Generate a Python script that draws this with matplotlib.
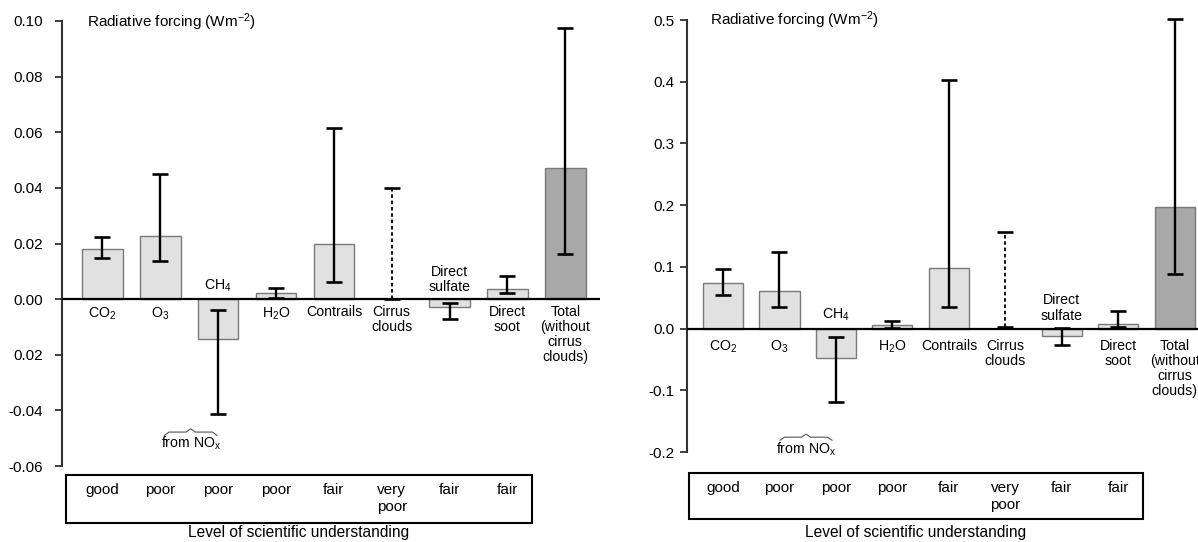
import matplotlib
matplotlib.use('Agg')
import matplotlib.pyplot as plt
import matplotlib.transforms as mtransforms
from matplotlib.patches import Rectangle

plt.rcParams['font.family'] = ['Liberation Sans', 'DejaVu Sans']
plt.rcParams['mathtext.fontset'] = 'custom'
plt.rcParams['mathtext.rm'] = 'Liberation Sans'
plt.rcParams['mathtext.it'] = 'Liberation Sans:italic'
plt.rcParams['mathtext.bf'] = 'Liberation Sans:bold'

# categories (shared by both panels)
labels = ['CO$_{\\mathregular{2}}$', 'O$_{\\mathregular{3}}$', 'CH$_{\\mathregular{4}}$',
          'H$_{\\mathregular{2}}$O', 'Contrails', 'Cirrus\nclouds', 'Direct\nsulfate',
          'Direct\nsoot', 'Total\n(without\ncirrus\nclouds)']
labels_above = [2, 6]          # labels written above the zero line
understanding = ['good', 'poor', 'poor', 'poor', 'fair', 'very\npoor', 'fair', 'fair']
has_bar = [True, True, True, True, True, False, True, True, True]
dashed_err = [5]               # cirrus: dashed error bar, no best estimate

# left panel values (Wm-2)
left_val = [0.018, 0.0227, -0.0144, 0.0022, 0.0198, 0.0, -0.0029, 0.0036, 0.0472]
left_lo = [0.0148, 0.0137, -0.0414, 0.0003, 0.0061, 0.0, -0.0072, 0.0022, 0.0162]
left_hi = [0.0223, 0.045, -0.004, 0.004, 0.0615, 0.040, -0.0014, 0.0083, 0.0975]
left_ticks = [-0.06, -0.04, -0.02, 0.0, 0.02, 0.04, 0.06, 0.08, 0.10]
left_ticklabels = ['-0.06', '-0.04', '0.02', '0.00', '0.02', '0.04', '0.06', '0.08', '0.10']

# right panel values (Wm-2)
right_val = [0.074, 0.061, -0.047, 0.006, 0.098, 0.0, -0.012, 0.007, 0.197]
right_lo = [0.055, 0.035, -0.119, 0.001, 0.035, 0.002, -0.027, 0.002, 0.089]
right_hi = [0.097, 0.124, -0.013, 0.012, 0.403, 0.157, 0.001, 0.028, 0.502]
right_ticks = [-0.2, -0.1, 0.0, 0.1, 0.2, 0.3, 0.4, 0.5]
right_ticklabels = ['-0.2', '-0.1', '0.0', '0.1', '0.2', '0.3', '0.4', '0.5']

W, H = 1198, 542
fig = plt.figure(figsize=(W / 100, H / 100), dpi=100)
fig.patch.set_facecolor('white')


def fy(py):
    return 1 - py / H


def panel(ax_px, xlim, ylim, width, vals, lo, hi, ticks, ticklabels, tick_pad,
          below_off, above_off, brace, box_px, rate_top, level_y, title_px):
    l, r, t, b = ax_px
    ax = fig.add_axes([l / W, fy(b), (r - l) / W, (b - t) / H])
    ax.set_xlim(*xlim)
    ax.set_ylim(*ylim)
    for s in ['top', 'right', 'bottom']:
        ax.spines[s].set_visible(False)
    ax.spines['left'].set_color('#333333')
    ax.spines['left'].set_linewidth(1.5)
    ax.set_xticks([])
    ax.set_yticks(ticks)
    ax.set_yticklabels(ticklabels, fontsize=11)
    ax.tick_params(axis='y', length=5, width=1.3, color='#333333', pad=tick_pad)
    ax.axhline(0, color='black', lw=1.6, zorder=4)

    x = list(range(len(vals)))
    for i in x:
        if has_bar[i]:
            fc = '#a8a8a8' if i == len(vals) - 1 else '#e1e1e1'
            ax.bar(i, vals[i], width=width, color=fc, edgecolor='#7a7a7a',
                   linewidth=1.0, zorder=2)
        mid = (lo[i] + hi[i]) / 2
        e = ax.errorbar(i, mid, yerr=(hi[i] - lo[i]) / 2,
                        fmt='none', ecolor='black', elinewidth=1.7,
                        capsize=5.5, capthick=1.9, zorder=5)
        for c in e[1]:
            c.set_clip_on(False)
        for c in e[2]:
            c.set_clip_on(False)
        if i in dashed_err:
            e[2][0].set_linestyle((0, (2, 1.5)))
            e[2][0].set_linewidth(1.3)

    for i, lab in enumerate(labels):
        if i in labels_above:
            ax.annotate(lab, xy=(i, 0), xytext=(0, above_off), textcoords='offset pixels',
                        ha='center', va='bottom', fontsize=10.2, linespacing=1.1)
        else:
            ax.annotate(lab, xy=(i, 0), xytext=(0, below_off), textcoords='offset pixels',
                        ha='center', va='top', fontsize=10.2, linespacing=1.1)

    # brace and "from NOx"
    bx0, bx1, by, bh, ty = brace
    bm = (bx0 + bx1) / 2
    d = 0.08
    ax.plot([bx0, bx0 + d, bm - d, bm, bm + d, bx1 - d, bx1],
            [by - bh, by, by, by + bh, by, by, by - bh],
            color='#555555', lw=0.8, clip_on=False)
    ax.text(bm, ty, 'from NO$_{\\mathregular{x}}$', ha='center', va='center', fontsize=10.2)

    # scientific understanding box
    bl, br, bt, bb = box_px
    fig.add_artist(Rectangle((bl / W, fy(bb)), (br - bl) / W, (bb - bt) / H,
                             transform=fig.transFigure, fill=False,
                             edgecolor='black', lw=1.5))
    trans = mtransforms.blended_transform_factory(ax.transData, fig.transFigure)
    for i, s in enumerate(understanding):
        ax.text(i, fy(rate_top), s, transform=trans, ha='center', va='top',
                fontsize=11, linespacing=1.25)
    fig.text((bl + br) / 2 / W, fy(level_y), 'Level of scientific understanding',
             ha='center', va='center', fontsize=11.2)

    fig.text(title_px[0] / W, fy(title_px[1]),
             'Radiative forcing (Wm$^{\\mathregular{-2}}$)',
             ha='left', va='center', fontsize=11)
    return ax


panel((62, 600, 21, 466), (-0.7, 8.6), (-0.06, 0.10), 0.7,
      left_val, left_lo, left_hi, left_ticks, left_ticklabels, 9,
      -6, 5, (1.07, 1.98, -0.0478, 0.0012, -0.0518),
      (66, 532, 475, 523), 483, 533, (87, 22))

panel((687, 1198, 20, 452), (-0.637, 8.41), (-0.2, 0.5), 0.71,
      right_val, right_lo, right_hi, right_ticks, right_ticklabels, 4,
      -10, 6, (1.01, 1.93, -0.176, 0.005, -0.195),
      (689, 1143, 473, 519), 481, 532, (710, 20))

fig.savefig('out.png', dpi=100, facecolor='white')
